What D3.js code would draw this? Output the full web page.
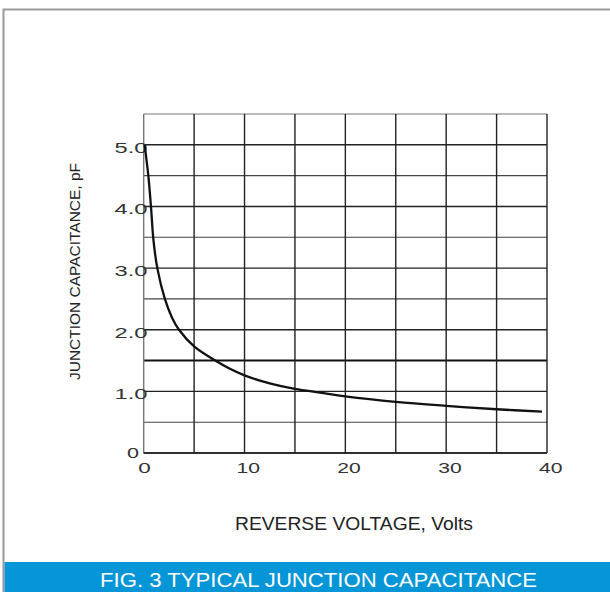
<!DOCTYPE html>
<html>
<head>
<meta charset="utf-8">
<script src="https://cdn.jsdelivr.net/npm/d3@7"></script>
<style>
body { margin: 0; background: #fff; }
svg text { font-family: "Liberation Sans", Arial, sans-serif; }
</style>
</head>
<body>
<div class="container"></div>
<script>
// values
const voltage = [0.1, 0.28, 0.46, 0.72, 0.97, 1.35, 2.1, 2.8, 3.5, 5, 7.1, 8.5, 10, 12.5, 15, 17.5, 20, 25, 30, 35, 39.5];
const capacitance = [5.0, 4.75, 4.5, 4.0, 3.45, 3.0, 2.5, 2.2, 2.0, 1.73, 1.5, 1.37, 1.26, 1.13, 1.04, 0.98, 0.92, 0.83, 0.765, 0.71, 0.67];
const xTicks = [0, 10, 20, 30, 40];
const yTicks = [0, 1, 2, 3, 4, 5];
const yTickLabels = ["0", "1.0", "2.0", "3.0", "4.0", "5.0"];
const xGrid = d3.range(0, 40.1, 5);
const yGrid = d3.range(0, 5.51, 0.5);

const width = 610, height = 592;
const svg = d3.select(".container")
              .append("svg")
              .attr("width", width)
              .attr("height", height);

const x = d3.scaleLinear().domain([0, 40]).range([143.7, 547]);
const y = d3.scaleLinear().domain([0, 5.5]).range([453, 114]);

// outer frame
svg.append("path")
   .attr("d", "M3.5,592 V9.5 H610")
   .attr("fill", "none")
   .attr("stroke", "#9a9a9a")
   .attr("stroke-width", 2);

// grid
svg.append("g")
   .selectAll("line")
   .data(yGrid)
   .join("line")
   .attr("x1", x(0)).attr("x2", x(40))
   .attr("y1", d => y(d)).attr("y2", d => y(d))
   .attr("stroke", d => d === 5.5 ? "#777" : (d === 1.5 ? "#111" : (d % 1 === 0 ? "#222" : "#444")))
   .attr("stroke-width", d => d === 1.5 ? 2 : (d % 1 === 0 ? 1.4 : 1.1));
svg.append("g")
   .selectAll("line")
   .data(xGrid)
   .join("line")
   .attr("x1", d => x(d)).attr("x2", d => x(d))
   .attr("y1", y(0)).attr("y2", y(5.5))
   .attr("stroke", d => d === 0 ? "#777" : "#222")
   .attr("stroke-width", 1.4);
svg.append("line")
   .attr("x1", x(0)).attr("x2", x(40))
   .attr("y1", y(0)).attr("y2", y(0))
   .attr("stroke", "#222").attr("stroke-width", 1.4);

// tick labels (wide glyphs in the original)
svg.append("g")
   .selectAll("text")
   .data(yTicks)
   .join("text")
   .attr("x", d => d === 0 ? 127 : 114.5)
   .attr("y", d => y(d) + (d === 0 ? 4.5 : 8))
   .attr("font-size", 14.5)
   .attr("textLength", d => d === 0 ? 12 : 33)
   .attr("lengthAdjust", "spacingAndGlyphs")
   .attr("fill", "#333")
   .text((d, i) => yTickLabels[i]);
svg.append("g")
   .selectAll("text")
   .data(xTicks)
   .join("text")
   .attr("x", d => d === 0 ? x(d) - 5.5 : x(d) - 8)
   .attr("y", y(0) + 20)
   .attr("font-size", 14.5)
   .attr("textLength", d => d === 0 ? 12.5 : 23.5)
   .attr("lengthAdjust", "spacingAndGlyphs")
   .attr("fill", "#333")
   .text(d => d);

// curve
const line = d3.line()
               .x(d => x(d[0]))
               .y(d => y(d[1]))
               .curve(d3.curveCatmullRom.alpha(0.5));
svg.append("path")
   .datum(voltage.map((v, i) => [v, capacitance[i]]))
   .attr("d", line)
   .attr("fill", "none")
   .attr("stroke", "#111")
   .attr("stroke-width", 2.3);

// axis titles
svg.append("text")
   .attr("x", 235)
   .attr("y", 530)
   .attr("font-size", 17.5)
   .attr("textLength", 238)
   .attr("lengthAdjust", "spacingAndGlyphs")
   .attr("fill", "#222")
   .text("REVERSE VOLTAGE, Volts");
svg.append("text")
   .attr("transform", "translate(80,380) rotate(-90)")
   .attr("font-size", 15.5)
   .attr("textLength", 217)
   .attr("lengthAdjust", "spacingAndGlyphs")
   .attr("fill", "#222")
   .text("JUNCTION CAPACITANCE, pF");

// caption banner
svg.append("rect")
   .attr("x", 4.5).attr("y", 562)
   .attr("width", width - 4.5).attr("height", 30)
   .attr("fill", "#0696d7");
svg.append("text")
   .attr("x", 100)
   .attr("y", 587)
   .attr("font-size", 20)
   .attr("textLength", 437)
   .attr("lengthAdjust", "spacingAndGlyphs")
   .attr("fill", "#fff")
   .text("FIG. 3 TYPICAL JUNCTION CAPACITANCE");
</script>
</body>
</html>
